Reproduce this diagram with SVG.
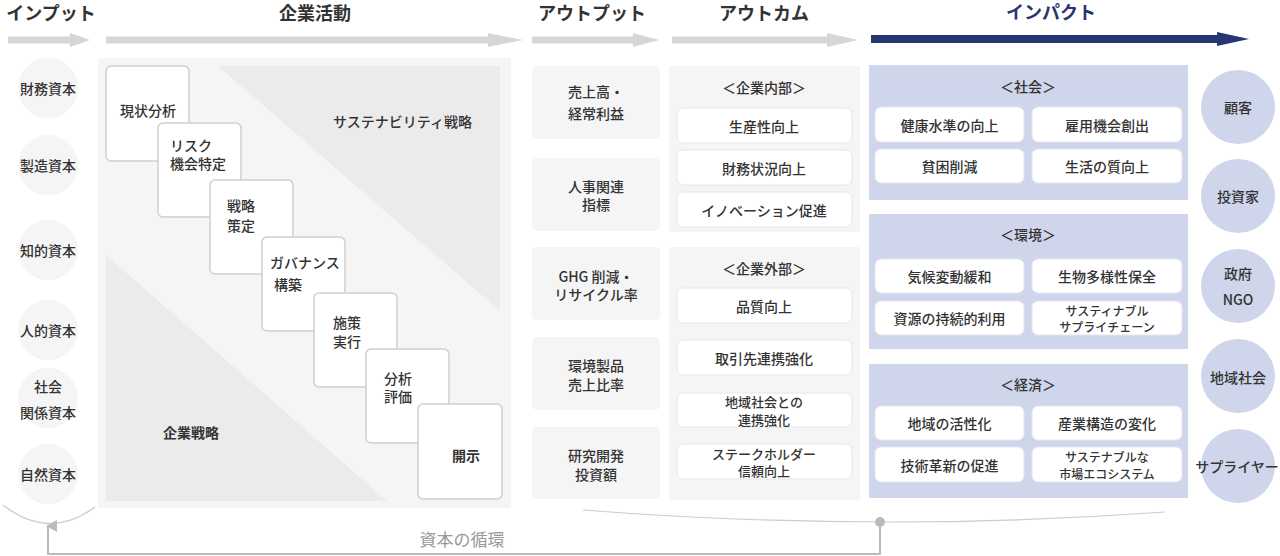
<svg xmlns="http://www.w3.org/2000/svg" width="1280" height="556" viewBox="0 0 1280 556">
<style>
text{font-family:"Noto Sans CJK JP","Noto Sans",sans-serif;fill:#333;font-size:14px;font-weight:500}
.c{text-anchor:middle;dominant-baseline:central}
.l{dominant-baseline:central}
.h{font-size:18px;font-weight:700;text-anchor:middle;dominant-baseline:central}
.s{font-size:12px}
.m{font-size:13px}
.b{font-weight:700}
.gray{fill:#f5f5f5}
.tri{fill:#ebebeb}
.card{fill:#fff;stroke:#cfcfcf;stroke-width:1.5}
.ob{fill:#fff;stroke:#e6e6e6;stroke-width:1}
.ib{fill:#fff;stroke:#e3e6f2;stroke-width:1}
.lav{fill:#cfd5eb}
.ga{fill:#d6d6d6}
</style>
<defs>
<marker id="ah" viewBox="0 0 12 12" refX="6" refY="2" markerWidth="12" markerHeight="12" markerUnits="userSpaceOnUse" orient="auto-start-reverse">
<path d="M6 0 L12 11 L0 11 Z" fill="#bbb"/>
</marker>
</defs>

<g id="headers">
<text class="h" x="51" y="12">インプット</text>
<text class="h" x="315" y="12">企業活動</text>
<text class="h" x="592" y="12">アウトプット</text>
<text class="h" x="764" y="12">アウトカム</text>
<text class="h" x="1051" y="11" style="fill:#27346f">インパクト</text>
</g>

<g id="flow-arrows">
<path class="ga" d="M8 36.5 H70 V33 L90 40 L70 47 V43.5 H8 Z"/>
<path class="ga" d="M106 36.5 H488 V33 L523 40 L488 47 V43.5 H106 Z"/>
<path class="ga" d="M532 36.5 H633 V33 L659 40 L633 47 V43.5 H532 Z"/>
<path class="ga" d="M672 36.5 H827 V33 L858 40 L827 47 V43.5 H672 Z"/>
<path fill="#263673" d="M871 35 H1217 V32 L1249 39 L1217 46 V43 H871 Z"/>
</g>

<g id="inputs">
<g id="in-1"><circle class="gray" cx="48" cy="88" r="30"/><text class="c" x="48" y="88">財務資本</text></g>
<g id="in-2"><circle class="gray" cx="48" cy="165" r="30"/><text class="c" x="48" y="165">製造資本</text></g>
<g id="in-3"><circle class="gray" cx="48" cy="250" r="30"/><text class="c" x="48" y="250">知的資本</text></g>
<g id="in-4"><circle class="gray" cx="48" cy="330" r="30"/><text class="c" x="48" y="330">人的資本</text></g>
<g id="in-5"><circle class="gray" cx="48" cy="398" r="30"/><text class="c" x="48" y="386">社会<tspan x="48" dy="26">関係資本</tspan></text></g>
<g id="in-6"><circle class="gray" cx="48" cy="474" r="30"/><text class="c" x="48" y="474">自然資本</text></g>
</g>

<g id="activities">
<rect class="gray" x="98" y="58" width="413" height="450"/>
<polygon class="tri" points="218,66 500,66 500,311"/>
<polygon class="tri" points="106,255 106,501 387,501"/>
<text class="l" x="333" y="121">サステナビリティ戦略</text>
<text class="l b" x="163" y="432">企業戦略</text>
<g id="step-1"><rect class="card" x="106" y="66" width="83" height="95" rx="5"/><text class="l" x="120" y="110">現状分析</text></g>
<g id="step-2"><rect class="card" x="158" y="123" width="83" height="94" rx="5"/><text class="l" x="170" y="145">リスク<tspan x="170" dy="18">機会特定</tspan></text></g>
<g id="step-3"><rect class="card" x="210" y="180" width="83" height="94" rx="5"/><text class="l" x="227" y="205">戦略<tspan x="227" dy="20">策定</tspan></text></g>
<g id="step-4"><rect class="card" x="262" y="237" width="83" height="94" rx="5"/><text class="l" x="270" y="262">ガバナンス<tspan x="274" dy="22">構築</tspan></text></g>
<g id="step-5"><rect class="card" x="314" y="293" width="83" height="94" rx="5"/><text class="l" x="333" y="322">施策<tspan x="333" dy="19">実行</tspan></text></g>
<g id="step-6"><rect class="card" x="366" y="349" width="83" height="94" rx="5"/><text class="l" x="384" y="378">分析<tspan x="384" dy="18">評価</tspan></text></g>
<g id="step-7"><rect class="card" x="418" y="404" width="84" height="95" rx="5"/><text class="c b" x="466" y="455">開示</text></g>
</g>

<g id="outputs">
<g id="out-1"><rect class="gray" x="532" y="66" width="128" height="73" rx="5"/><text class="c" x="596" y="91">売上高・<tspan x="596" dy="22">経常利益</tspan></text></g>
<g id="out-2"><rect class="gray" x="532" y="158" width="128" height="73" rx="5"/><text class="c" x="596" y="186">人事関連<tspan x="596" dy="18">指標</tspan></text></g>
<g id="out-3"><rect class="gray" x="532" y="247" width="128" height="73" rx="5"/><text class="c" x="596" y="276">GHG 削減・<tspan x="596" dy="18">リサイクル率</tspan></text></g>
<g id="out-4"><rect class="gray" x="532" y="337" width="128" height="73" rx="5"/><text class="c" x="596" y="365">環境製品<tspan x="596" dy="19">売上比率</tspan></text></g>
<g id="out-5"><rect class="gray" x="532" y="427" width="128" height="72" rx="5"/><text class="c" x="596" y="455">研究開発<tspan x="596" dy="19">投資額</tspan></text></g>
</g>

<g id="outcomes">
<g id="oc-internal">
<rect class="gray" x="669" y="66" width="191" height="166"/>
<text class="c" x="764" y="87">＜企業内部＞</text>
<rect class="ob" x="677" y="108" width="175" height="35" rx="6"/><text class="c" x="764" y="125.5">生産性向上</text>
<rect class="ob" x="677" y="150" width="175" height="35" rx="6"/><text class="c" x="764" y="167.5">財務状況向上</text>
<rect class="ob" x="677" y="192" width="175" height="35" rx="6"/><text class="c" x="764" y="209.5">イノベーション促進</text>
</g>
<g id="oc-external">
<rect class="gray" x="669" y="247" width="191" height="253"/>
<text class="c" x="764" y="268">＜企業外部＞</text>
<rect class="ob" x="677" y="288" width="175" height="35" rx="6"/><text class="c" x="764" y="305.5">品質向上</text>
<rect class="ob" x="677" y="340" width="175" height="35" rx="6"/><text class="c" x="764" y="357.5">取引先連携強化</text>
<rect class="ob" x="677" y="393" width="175" height="34" rx="6"/><text class="c m" x="764" y="401.5">地域社会との<tspan x="764" dy="17">連携強化</tspan></text>
<rect class="ob" x="677" y="444" width="175" height="35" rx="6"/><text class="c m" x="764" y="453">ステークホルダー<tspan x="764" dy="17">信頼向上</tspan></text>
</g>
</g>

<g id="impacts">
<g id="im-society">
<rect class="lav" x="869" y="65" width="319" height="135"/>
<text class="c" x="1028" y="86">＜社会＞</text>
<rect class="ib" x="875" y="107" width="149" height="35" rx="6"/><text class="c" x="949.5" y="124.5">健康水準の向上</text>
<rect class="ib" x="1032" y="107" width="150" height="35" rx="6"/><text class="c" x="1107" y="124.5">雇用機会創出</text>
<rect class="ib" x="875" y="149" width="149" height="34" rx="6"/><text class="c" x="949.5" y="166">貧困削減</text>
<rect class="ib" x="1032" y="149" width="150" height="34" rx="6"/><text class="c" x="1107" y="166">生活の質向上</text>
</g>
<g id="im-environment">
<rect class="lav" x="869" y="214" width="319" height="135"/>
<text class="c" x="1028" y="234">＜環境＞</text>
<rect class="ib" x="875" y="259" width="149" height="34" rx="6"/><text class="c" x="949.5" y="276">気候変動緩和</text>
<rect class="ib" x="1032" y="259" width="150" height="34" rx="6"/><text class="c" x="1107" y="276">生物多様性保全</text>
<rect class="ib" x="875" y="301" width="149" height="34" rx="6"/><text class="c" x="949.5" y="318">資源の持続的利用</text>
<rect class="ib" x="1032" y="301" width="150" height="34" rx="6"/><text class="c s" x="1107" y="310">サスティナブル<tspan x="1107" dy="16">サプライチェーン</tspan></text>
</g>
<g id="im-economy">
<rect class="lav" x="869" y="364" width="319" height="134"/>
<text class="c" x="1028" y="384">＜経済＞</text>
<rect class="ib" x="875" y="406" width="149" height="34" rx="6"/><text class="c" x="949.5" y="423">地域の活性化</text>
<rect class="ib" x="1032" y="406" width="150" height="34" rx="6"/><text class="c" x="1107" y="423">産業構造の変化</text>
<rect class="ib" x="875" y="447" width="149" height="35" rx="6"/><text class="c" x="949.5" y="464.5">技術革新の促進</text>
<rect class="ib" x="1032" y="447" width="150" height="35" rx="6"/><text class="c s" x="1107" y="456.5">サステナブルな<tspan x="1107" dy="16">市場エコシステム</tspan></text>
</g>
</g>

<g id="stakeholders">
<g id="sh-1"><circle class="lav" cx="1238" cy="107" r="37"/><text class="c" x="1238" y="107">顧客</text></g>
<g id="sh-2"><circle class="lav" cx="1238" cy="196" r="37"/><text class="c" x="1238" y="196">投資家</text></g>
<g id="sh-3"><circle class="lav" cx="1238" cy="286" r="37"/><text class="c" x="1238" y="273">政府<tspan x="1238" dy="26">NGO</tspan></text></g>
<g id="sh-4"><circle class="lav" cx="1238" cy="376" r="37"/><text class="c" x="1238" y="377">地域社会</text></g>
<g id="sh-5"><circle class="lav" cx="1238" cy="466" r="37"/><text class="c" x="1237" y="466">サプライヤー</text></g>
</g>

<g id="connectors" fill="none">
<path d="M3 505 Q49 541 95 507" stroke="#cccccc" stroke-width="1.2"/>
<path d="M583 510 Q876 533 1165 512" stroke="#cccccc" stroke-width="1.2"/>
<polyline points="880,522 880,554 48,554 48,526" stroke="#bbbbbb" stroke-width="2" marker-end="url(#ah)"/>
<circle cx="880" cy="522" r="5" fill="#bbbbbb"/>
</g>
<text class="c" x="462" y="538" style="font-size:17px;fill:#999;font-weight:400">資本の循環</text>
</svg>
